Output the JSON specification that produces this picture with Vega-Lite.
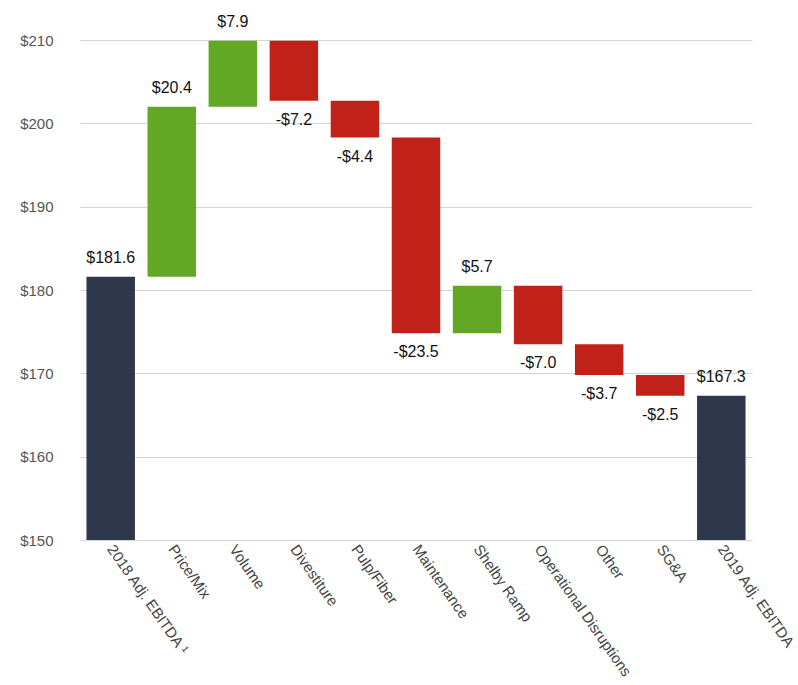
{
  "$schema": "https://vega.github.io/schema/vega-lite/v6.json",
  "width": 672,
  "height": 500,
  "autosize": {"type": "none"},
  "padding": {"left": 80, "top": 40, "right": 46, "bottom": 145},
  "background": "white",
  "config": {
    "font": "Liberation Sans",
    "view": {"stroke": null}
  },
  "data": {
    "values": [
      {"category": "2018 Adj. EBITDA ¹", "start": 150, "end": 181.6, "kind": "total", "label": "$181.6"},
      {"category": "Price/Mix", "start": 181.6, "end": 202.0, "kind": "up", "label": "$20.4"},
      {"category": "Volume", "start": 202.0, "end": 209.9, "kind": "up", "label": "$7.9"},
      {"category": "Divestiture", "start": 209.9, "end": 202.7, "kind": "down", "label": "-$7.2"},
      {"category": "Pulp/Fiber", "start": 202.7, "end": 198.3, "kind": "down", "label": "-$4.4"},
      {"category": "Maintenance", "start": 198.3, "end": 174.8, "kind": "down", "label": "-$23.5"},
      {"category": "Shelby Ramp", "start": 174.8, "end": 180.5, "kind": "up", "label": "$5.7"},
      {"category": "Operational Disruptions", "start": 180.5, "end": 173.5, "kind": "down", "label": "-$7.0"},
      {"category": "Other", "start": 173.5, "end": 169.8, "kind": "down", "label": "-$3.7"},
      {"category": "SG&A", "start": 169.8, "end": 167.3, "kind": "down", "label": "-$2.5"},
      {"category": "2019 Adj. EBITDA", "start": 150, "end": 167.3, "kind": "total", "label": "$167.3"}
    ]
  },
  "encoding": {
    "x": {
      "field": "category",
      "type": "nominal",
      "sort": null,
      "scale": {"paddingInner": 0.206, "paddingOuter": 0.106},
      "axis": {
        "title": null,
        "labelAngle": 55,
        "labelAlign": "left",
        "labelBaseline": "middle",
        "labelFontSize": 15,
        "labelColor": "#444444",
        "labelPadding": 6,
        "ticks": false,
        "domain": false,
        "labelLimit": 300
      }
    }
  },
  "layer": [
    {
      "mark": {"type": "bar"},
      "encoding": {
        "y": {
          "field": "start",
          "type": "quantitative",
          "scale": {"domain": [150, 210], "nice": false, "zero": false},
          "axis": {
            "title": null,
            "values": [150, 160, 170, 180, 190, 200, 210],
            "format": "$d",
            "labelFontSize": 15,
            "labelColor": "#555555",
            "labelPadding": 27,
            "ticks": false,
            "domain": false,
            "gridColor": "#d4d4d4",
            "gridWidth": 1
          }
        },
        "y2": {"field": "end"},
        "color": {
          "field": "kind",
          "type": "nominal",
          "scale": {"domain": ["total", "up", "down"], "range": ["#2e374b", "#62a825", "#c0221a"]},
          "legend": null
        }
      }
    },
    {
      "transform": [{"filter": "datum.kind !== 'down'"}],
      "mark": {"type": "text", "baseline": "bottom", "dy": -11, "fontSize": 16, "color": "#111111"},
      "encoding": {
        "y": {"field": "end", "type": "quantitative"},
        "text": {"field": "label"}
      }
    },
    {
      "transform": [{"filter": "datum.kind === 'down'"}],
      "mark": {"type": "text", "baseline": "top", "dy": 11, "fontSize": 16, "color": "#111111"},
      "encoding": {
        "y": {"field": "end", "type": "quantitative"},
        "text": {"field": "label"}
      }
    }
  ]
}
